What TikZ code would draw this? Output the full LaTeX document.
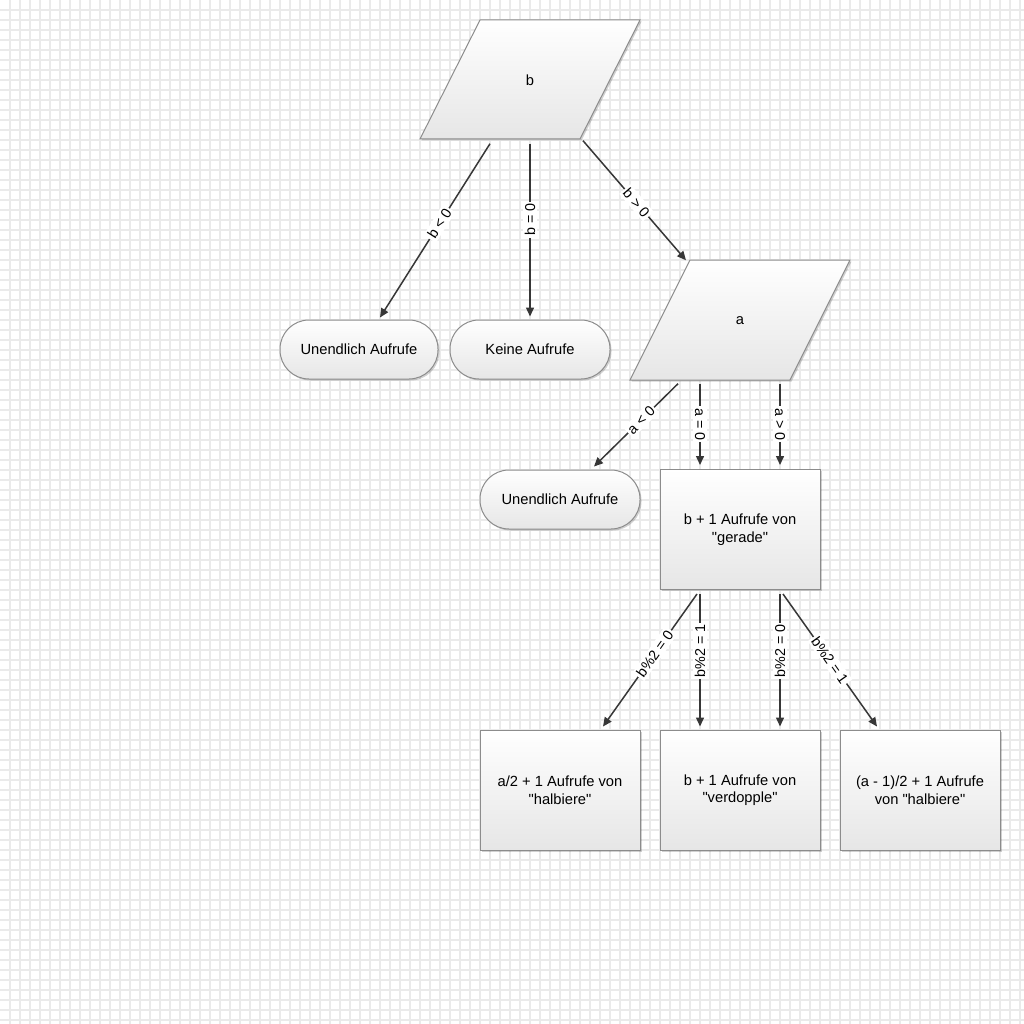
\documentclass[tikz,border=0pt]{standalone}
\usepackage{fontspec}
\setmainfont{Liberation Sans}
\newfontfamily\plainsf{Liberation Sans}
\usetikzlibrary{shadows,calc,arrows.meta}
\definecolor{gridc}{RGB}{234,234,234}
\definecolor{boxline}{RGB}{140,140,140}
\definecolor{boxbot}{RGB}{230,230,230}
\definecolor{arrc}{RGB}{55,55,55}
\tikzset{
  boxsh/.style={draw=boxline, line width=1pt, top color=white, bottom color=boxbot,
    drop shadow={shadow xshift=1.5pt, shadow yshift=-1.5pt, opacity=0.18, fill=black}},
  procbox/.style={boxsh, rectangle, minimum width=160, minimum height=120, inner sep=0pt,
    align=center, font=\plainsf\fontsize{14.7}{17.5}\selectfont},
  termbox/.style={boxsh, rectangle, rounded corners=29pt, minimum width=158, minimum height=59,
    inner sep=0pt, align=center, font=\plainsf\fontsize{14.7}{17.5}\selectfont},
  ptext/.style={rectangle, inner sep=0pt, font=\plainsf\fontsize{14.7}{17.5}\selectfont},
  arr/.style={draw=arrc, line width=1.5pt, -{Triangle[length=9pt,width=8pt]}},
  lbl/.style={fill=white, inner sep=2pt, font=\plainsf\fontsize{14.3}{16}\selectfont, text=black}
}
\begin{document}
\begin{tikzpicture}[x=1pt,y=-1pt]
\useasboundingbox (0,0) rectangle (1024,1024);
\fill[white] (0,0) rectangle (1024,1024);
\foreach \k in {1,...,102} {
  \draw[gridc, line width=1.6pt] (\k*10,0) -- (\k*10,1024);
  \draw[gridc, line width=1.6pt] (0,\k*10) -- (1024,\k*10);
}
% parallelogram b
\path[boxsh] (480,20) -- (640,20) -- (580,139) -- (420,139) -- cycle;
\node[ptext, minimum width=220, minimum height=119] (b) at (530,80) {b};
% parallelogram a
\path[boxsh] (690,260) -- (850,260) -- (790,380) -- (630,380) -- cycle;
\node[ptext, minimum width=220, minimum height=120] (a) at (740,320.5) {a};
% terminals
\node[termbox] (u1) at (359,349.5) {Unendlich Aufrufe};
\node[termbox, minimum width=160] (k) at (530,349.5) {Keine Aufrufe};
\node[termbox, minimum width=160] (u2) at (560,499.5) {Unendlich Aufrufe};
% process boxes
\node[procbox] (g) at (740,529.5) {b + 1 Aufrufe von\\"gerade"};
\node[procbox] (h1) at (560,790) {a/2 + 1 Aufrufe von\\"halbiere"};
\node[procbox] (h2) at (740,790) {b + 1 Aufrufe von\\"verdopple"};
\node[procbox] (h3) at (920,790) {(a - 1)/2 + 1 Aufrufe\\von "halbiere"};
% connectors from b
\draw[arr] ($(b.south)+(-40,4)$) -- node[lbl, pos=0.46, rotate=57.8] {b < 0} ($(u1.north)+(21,-2)$);
\draw[arr] ($(b.south)+(0,4)$) -- node[lbl, pos=0.44, rotate=90] {b = 0} ($(k.north)+(0,-3)$);
\draw[arr] ($(b.south)+(53,1)$) -- node[lbl, pos=0.52, rotate=-49.4] {b > 0} ($(a.north)+(-54,0)$);
% connectors from a
\draw[arr] ($(a.south)+(-62,3)$) -- node[lbl, pos=0.44, rotate=45] {a < 0} ($(u2.north)+(34,-3)$);
\draw[arr] ($(a.south)+(-40,3)$) -- node[lbl, pos=0.5, rotate=-90] {a = 0} ($(g.north)+(-40,-4)$);
\draw[arr] ($(a.south)+(40,3)$) -- node[lbl, pos=0.5, rotate=-90] {a > 0} ($(g.north)+(40,-4)$);
% connectors from g
\draw[arr] ($(g.south)+(-43,4)$) -- node[lbl, pos=0.45, rotate=54.9] {b\%2 = 0} ($(h1.north)+(43,-3)$);
\draw[arr] ($(g.south)+(-40,4)$) -- node[lbl, pos=0.43, rotate=90] {b\%2 = 1} ($(h2.north)+(-40,-3)$);
\draw[arr] ($(g.south)+(40,4)$) -- node[lbl, pos=0.43, rotate=90] {b\%2 = 0} ($(h2.north)+(40,-3)$);
\draw[arr] ($(g.south)+(43,4)$) -- node[lbl, pos=0.5, rotate=-54.9] {b\%2 = 1} ($(h3.north)+(-43,-3)$);
\end{tikzpicture}
\end{document}
